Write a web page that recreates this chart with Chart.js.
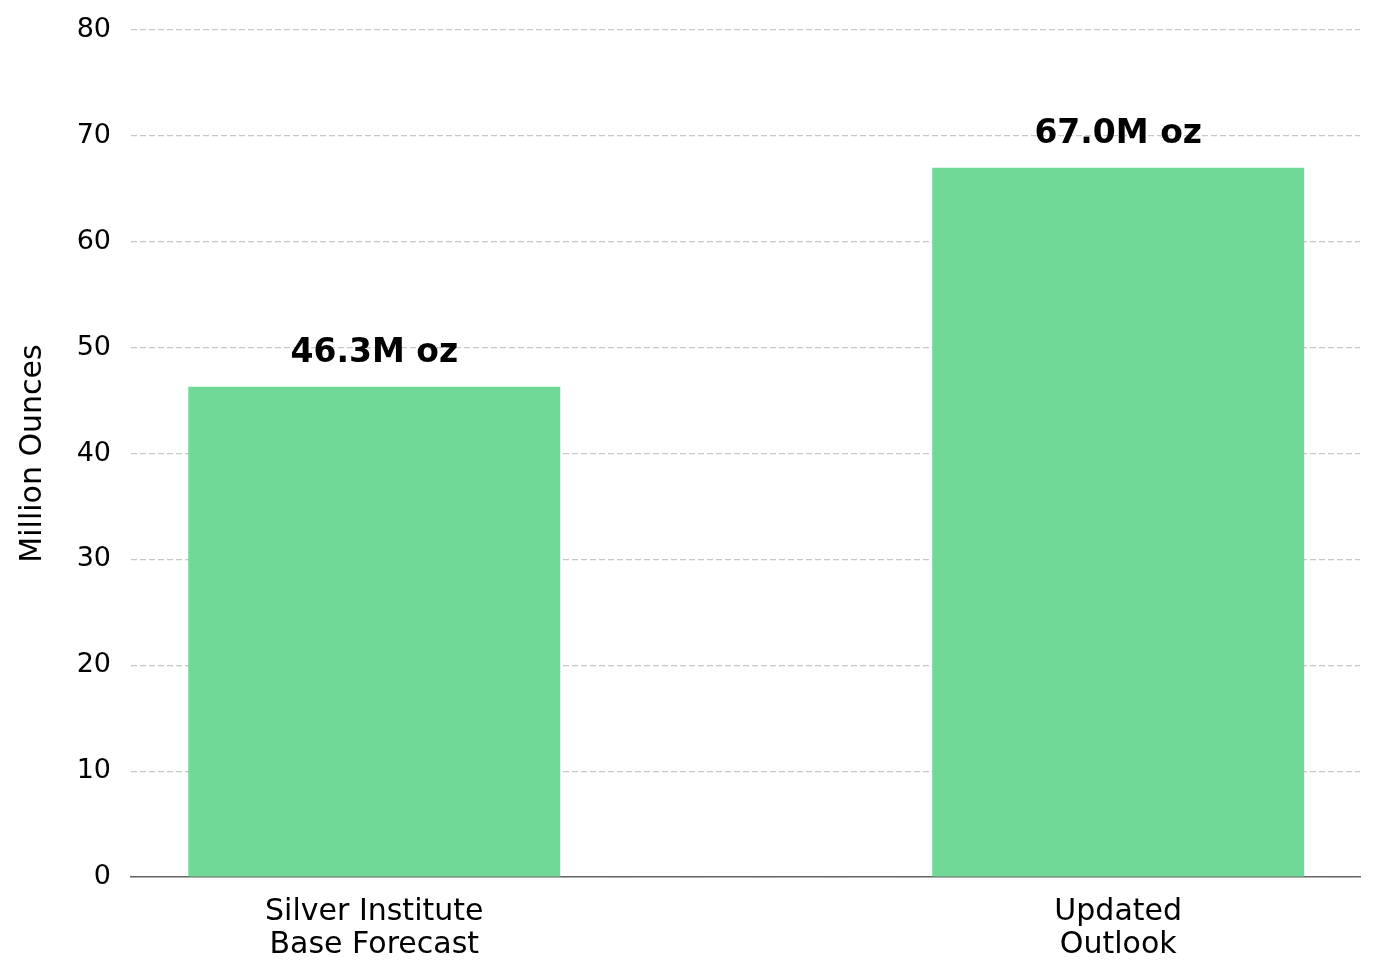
<!DOCTYPE html>
<html>
<head>
<meta charset="utf-8">
<script src="https://cdn.jsdelivr.net/npm/chart.js@4.4.1/dist/chart.umd.min.js"></script>
<style>
  html, body { margin: 0; padding: 0; background: #fff; }
  #wrap { width: 1380px; height: 979px; position: relative; }
</style>
</head>
<body>
<div id="wrap"><canvas id="silver-chart"></canvas></div>
<script>
// Chart data
const categories = [['Silver Institute', 'Base Forecast'], ['Updated', 'Outlook']];
const ounces = [46.3, 67.0];
const yTicks = [0, 10, 20, 30, 40, 50, 60, 70, 80];

const barColor = '#70d998';
const fontFamily = '"DejaVu Sans", sans-serif';

// Value labels above bars
const valueLabels = {
    id: 'valueLabels',
    afterDatasetsDraw(chart) {
        const ctx = chart.ctx;
        const meta = chart.getDatasetMeta(0);
        ctx.save();
        ctx.font = 'bold 33px ' + fontFamily;
        ctx.fillStyle = '#000';
        ctx.textAlign = 'center';
        ctx.textBaseline = 'alphabetic';
        meta.data.forEach(function(bar, i) {
            ctx.fillText(ounces[i].toFixed(1) + 'M oz', bar.x, bar.y - 25);
        });
        ctx.restore();
    }
};

const ctx = document.getElementById('silver-chart').getContext('2d');
new Chart(ctx, {
    type: 'bar',
    data: {
        datasets: [{
            data: ounces.map(function(v, i) { return { x: i, y: v }; }),
            backgroundColor: barColor,
            borderWidth: 0,
            barPercentage: 0.5,
            categoryPercentage: 1.0
        }]
    },
    options: {
        responsive: true,
        maintainAspectRatio: false,
        devicePixelRatio: 1,
        animation: false,
        layout: { padding: { top: 30, right: 20, bottom: 0, left: 0 } },
        plugins: {
            legend: { display: false },
            tooltip: { enabled: false }
        },
        scales: {
            x: {
                type: 'linear',
                offset: false,
                min: -0.327,
                max: 1.325,
                grid: { display: false, drawTicks: false, offset: false },
                border: { display: true, color: '#666666', width: 1.5 },
                ticks: {
                    stepSize: 1,
                    includeBounds: false,
                    autoSkip: false,
                    maxRotation: 0,
                    padding: 19,
                    color: '#000',
                    font: { family: fontFamily, size: 30, lineHeight: 1.1 },
                    callback: function(value) {
                        return Number.isInteger(value) && categories[value] ? categories[value] : '';
                    }
                },
                afterFit: function(scale) {
                    scale.height = 102;
                    scale.paddingLeft = 0;
                    scale.paddingRight = 0;
                }
            },
            y: {
                min: 0,
                max: 80,
                afterBuildTicks: function(scale) {
                    scale.ticks = yTicks.map(function(v) { return { value: v }; });
                },
                grid: { color: '#c8c8c8', lineWidth: 1.2, drawTicks: false },
                border: { display: false, dash: [6, 3] },
                ticks: {
                    padding: 20,
                    color: '#000',
                    font: { family: fontFamily, size: 27 }
                },
                title: {
                    display: true,
                    text: 'Million Ounces',
                    color: '#000',
                    padding: { top: 15, bottom: 0 },
                    font: { family: fontFamily, size: 30 }
                },
                afterFit: function(scale) {
                    scale.width = 131;
                    scale.paddingTop = 0;
                    scale.paddingBottom = 0;
                }
            }
        }
    },
    plugins: [valueLabels]
});
</script>
</body>
</html>
